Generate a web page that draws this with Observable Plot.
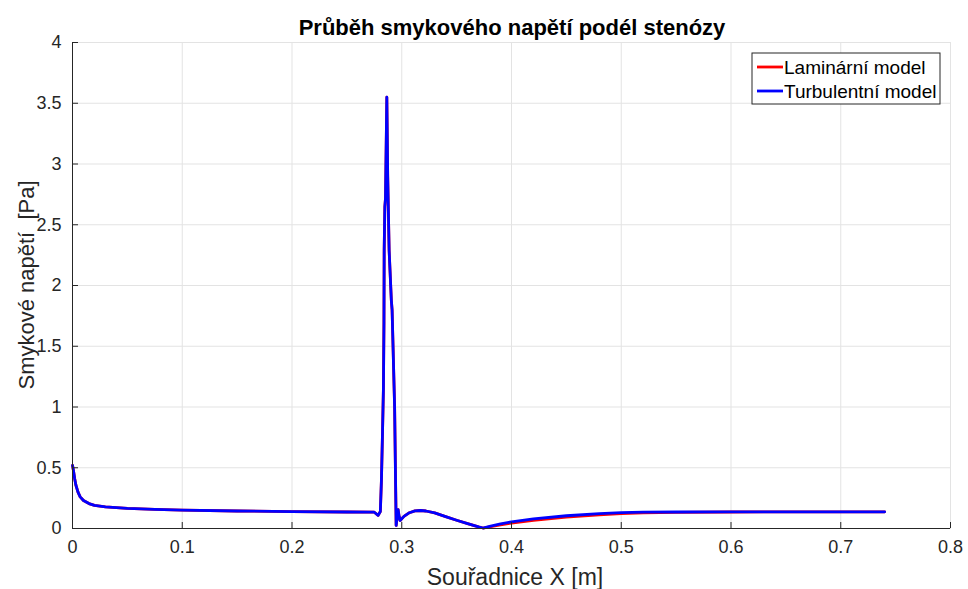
<!DOCTYPE html>
<html>
<head>
<meta charset="utf-8">
<script src="https://cdn.jsdelivr.net/npm/d3@7"></script>
<script src="https://cdn.jsdelivr.net/npm/@observablehq/plot@0.6"></script>
<style>
  html, body { margin: 0; padding: 0; background: #fff; }
  #chart { width: 968px; height: 589px; }
  svg text { font-family: "Liberation Sans", Arial, Helvetica, sans-serif; }
</style>
</head>
<body>
<div id="chart"></div>
<script>
// Wall shear stress along the stenosis: position X [m] and stress [Pa]
const xPos = [0, 0.001, 0.002, 0.003, 0.005, 0.007, 0.01, 0.015, 0.02, 0.03, 0.05, 0.075, 0.1, 0.15, 0.2, 0.25, 0.275,
  0.2785, 0.2805, 0.2815, 0.2825, 0.2833, 0.2838, 0.284, 0.2846, 0.2852, 0.2864, 0.2872, 0.2885, 0.2905, 0.2912,
  0.2935, 0.2945, 0.2949, 0.2958, 0.2967, 0.2976, 0.2985, 0.302, 0.307, 0.312, 0.317, 0.322, 0.33, 0.34, 0.35, 0.36,
  0.37, 0.374, 0.38, 0.39, 0.40, 0.42, 0.45, 0.48, 0.5, 0.52, 0.55, 0.6, 0.65, 0.7, 0.74];

const turbulent = [0.52, 0.47, 0.41, 0.36, 0.3, 0.26, 0.23, 0.205, 0.19, 0.178, 0.165, 0.157, 0.151, 0.144, 0.139, 0.136, 0.134,
  0.108, 0.14, 0.4, 0.8, 1.15, 1.7, 2.3, 2.65, 2.72, 3.55, 2.9, 2.29, 1.88, 1.8,
  1.0, 0.3, 0.025, 0.09, 0.155, 0.1, 0.066, 0.1, 0.13, 0.145, 0.148, 0.144, 0.128, 0.098, 0.068, 0.04,
  0.013, 0.004, 0.017, 0.038, 0.055, 0.08, 0.105, 0.122, 0.13, 0.134, 0.136, 0.137, 0.137, 0.137, 0.137];

const laminar = [0.52, 0.47, 0.41, 0.36, 0.3, 0.26, 0.23, 0.205, 0.19, 0.178, 0.165, 0.157, 0.151, 0.144, 0.139, 0.136, 0.134,
  0.108, 0.14, 0.4, 0.8, 1.15, 1.7, 2.3, 2.65, 2.72, 3.55, 2.9, 2.29, 1.88, 1.8,
  1.0, 0.3, 0.025, 0.09, 0.155, 0.1, 0.066, 0.1, 0.13, 0.145, 0.148, 0.144, 0.128, 0.098, 0.068, 0.04,
  0.013, 0.004, 0.013, 0.03, 0.045, 0.068, 0.093, 0.112, 0.122, 0.128, 0.133, 0.136, 0.137, 0.137, 0.137];

const xTicks = [0, 0.1, 0.2, 0.3, 0.4, 0.5, 0.6, 0.7, 0.8];
const yTicks = [0, 0.5, 1, 1.5, 2, 2.5, 3, 3.5, 4];

const seriesNames = ["Laminární model", "Turbulentní model"];
const seriesColors = ["#ff0000", "#0000ff"];

const titleText = "Průběh smykového napětí podél stenózy";
const xLabel = "Souřadnice X [m]";
const yLabel = "Smykové napětí  [Pa]";

const lamRows = xPos.map((x, i) => ({x, y: laminar[i]}));
const turbRows = xPos.map((x, i) => ({x, y: turbulent[i]}));

const axisColor = "#262626";
const gridColor = "#e3e3e3";
const font = "\"Liberation Sans\", Arial, Helvetica, sans-serif";

const chart = Plot.plot({
  width: 968,
  height: 589,
  marginLeft: 72,
  marginRight: 18,
  marginTop: 42,
  marginBottom: 61,
  style: {fontFamily: font, background: "#fff", overflow: "visible"},
  x: {domain: [0, 0.8], ticks: xTicks, label: null},
  y: {domain: [0, 4], ticks: yTicks, label: null},
  marks: [
    // light grid and light upper/right box edges
    Plot.gridX(xTicks, {stroke: gridColor, strokeOpacity: 1}),
    Plot.gridY(yTicks, {stroke: gridColor, strokeOpacity: 1}),
    Plot.frame({stroke: gridColor, strokeOpacity: 1}),
    // data curves
    Plot.line(lamRows, {x: "x", y: "y", stroke: seriesColors[0], strokeWidth: 2.8}),
    Plot.line(turbRows, {x: "x", y: "y", stroke: seriesColors[1], strokeWidth: 2.8}),
    // dark left and bottom axes, ticks pointing inwards
    Plot.ruleY([0], {stroke: axisColor}),
    Plot.ruleX([0], {stroke: axisColor}),
    Plot.axisX(xTicks, {tickSize: -6, stroke: axisColor, text: null, label: null}),
    Plot.axisY(yTicks, {tickSize: -6, stroke: axisColor, text: null, label: null}),
    Plot.axisX(xTicks, {tickSize: 0, tickPadding: 12, fontSize: 18, fill: axisColor, label: null,
      tickFormat: d => String(d)}),
    Plot.axisY(yTicks, {tickSize: 0, tickPadding: 11, fontSize: 18, fill: axisColor, label: null,
      tickFormat: d => String(d)})
  ]
});

const svg = d3.select(chart);

// title
svg.append("text")
  .attr("x", 512).attr("y", 35)
  .attr("text-anchor", "middle")
  .attr("font-size", 22).attr("font-weight", "bold")
  .attr("fill", "#000")
  .text(titleText);

// axis labels
svg.append("text")
  .attr("x", 515).attr("y", 585)
  .attr("text-anchor", "middle")
  .attr("font-size", 23).attr("fill", axisColor)
  .text(xLabel);

svg.append("text")
  .attr("transform", "translate(34,285) rotate(-90)")
  .attr("text-anchor", "middle")
  .attr("font-size", 22).attr("fill", axisColor)
  .text(yLabel);

// legend
const lg = svg.append("g").attr("transform", "translate(752,53)");
lg.append("rect").attr("width", 188).attr("height", 51)
  .attr("fill", "#fff").attr("stroke", axisColor).attr("stroke-width", 1);
seriesNames.forEach((name, i) => {
  const yy = 14 + i * 24;
  lg.append("line").attr("x1", 5).attr("x2", 31).attr("y1", yy).attr("y2", yy)
    .attr("stroke", seriesColors[i]).attr("stroke-width", 2.8);
  lg.append("text").attr("x", 32).attr("y", yy + 6.5)
    .attr("text-anchor", "start")
    .attr("font-size", 19).attr("fill", "#000")
    .text(name);
});

document.getElementById("chart").appendChild(chart);
</script>
</body>
</html>
